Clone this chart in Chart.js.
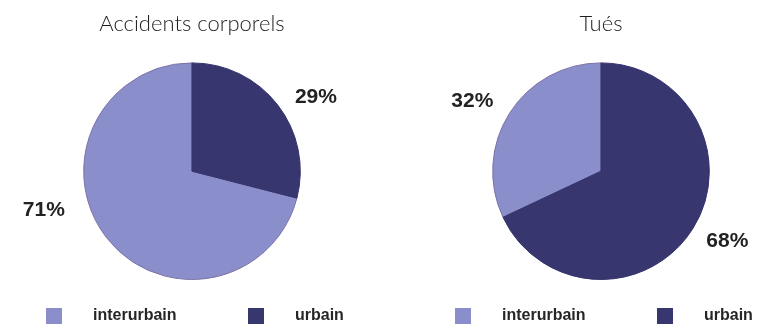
<!DOCTYPE html>
<html>
<head>
<meta charset="utf-8">
<script src="https://cdn.jsdelivr.net/npm/chart.js@4.4.1/dist/chart.umd.min.js"></script>
<style>
  html, body { margin: 0; padding: 0; background: #fff; overflow: hidden; }
  #wrap { position: relative; width: 768px; height: 335px; }
  .box { position: absolute; top: 0; width: 384px; height: 335px; }
</style>
</head>
<body>
<div id="wrap">
  <div class="box" style="left:0"><canvas id="pieAccidents"></canvas></div>
  <div class="box" style="left:384px"><canvas id="pieTues"></canvas></div>
</div>
<script>
// shares in percent, per road type
const categories = ["interurbain", "urbain"];
const accidentsValues = [71, 29];
const tuesValues = [32, 68];
const chartTitles = ["Accidents corporels", "Tués"];

const sliceColors = ["#8a8fcb", "#37366f"];
const sliceBorders = ["#7a72a6", "#34336b"];

// percent labels sit outside the pie, a little off the slice middle
const pctLabels = {
  id: "pctLabels",
  afterDatasetsDraw(chart, args, opts) {
    const ctx = chart.ctx;
    const meta = chart.getDatasetMeta(0);
    const values = chart.data.datasets[0].data;
    ctx.save();
    ctx.filter = "blur(0.6px)";
    ctx.font = "bold 21px 'Liberation Sans', Arial, sans-serif";
    ctx.fillStyle = "#222";
    ctx.textAlign = "center";
    ctx.textBaseline = "middle";
    meta.data.forEach(function(arc, i) {
      const p = arc.getProps(["x", "y", "startAngle", "endAngle", "outerRadius"], true);
      const shift = opts.shift[i];
      const a = (p.startAngle + p.endAngle) / 2 + shift.angle * Math.PI / 180;
      const r = p.outerRadius + shift.dist;
      ctx.fillText(values[i] + "%", p.x + Math.cos(a) * r, p.y + Math.sin(a) * r);
    });
    ctx.restore();
  }
};

// legend row under the pie: square, gap, label
const rowLegend = {
  id: "rowLegend",
  afterDraw(chart) {
    const ctx = chart.ctx;
    const cx = (chart.chartArea.left + chart.chartArea.right) / 2;
    const y = 316;
    const starts = [-146, 56];
    ctx.save();
    ctx.filter = "blur(0.6px)";
    ctx.font = "bold 16px 'Liberation Sans', Arial, sans-serif";
    ctx.textBaseline = "middle";
    chart.data.labels.forEach(function(lab, i) {
      const x = cx + starts[i];
      ctx.fillStyle = chart.data.datasets[0].backgroundColor[i];
      ctx.fillRect(x, y - 8, 16, 16);
      ctx.fillStyle = "#262626";
      ctx.fillText(lab, x + 47, y);
    });
    ctx.restore();
  }
};

function makePie(canvasId, values, title, padLeft, shift)
{
  const canvas = document.getElementById(canvasId);
  return new Chart(canvas, {
    type: "pie",
    data: {
      labels: categories,
      datasets: [{
        data: values,
        backgroundColor: sliceColors,
        borderColor: sliceBorders,
        borderWidth: 1
      }]
    },
    options: {
      responsive: true,
      maintainAspectRatio: false,
      animation: false,
      // urbain always starts at 12 o'clock
      rotation: -values[0] * 3.6,
      layout: { padding: { left: padLeft, right: 0, top: 0, bottom: 55 } },
      plugins: {
        legend: { display: false },
        tooltip: { enabled: false },
        title: {
          display: true,
          text: title,
          color: "#1e1e1e",
          font: { family: "Lato, 'Open Sans', sans-serif", size: 22, weight: 300, lineHeight: 1.2 },
          padding: { top: 11, bottom: 25 }
        },
        pctLabels: { shift: shift }
      }
    },
    plugins: [pctLabels, rowLegend]
  });
}

makePie("pieAccidents", accidentsValues, chartTitles[0], 0,
  [{ angle: 23, dist: 45 }, { angle: 7, dist: 36 }]);
makePie("pieTues", tuesValues, chartTitles[1], 50,
  [{ angle: -4, dist: 38 }, { angle: -3.5, dist: 36 }]);
</script>
</body>
</html>
